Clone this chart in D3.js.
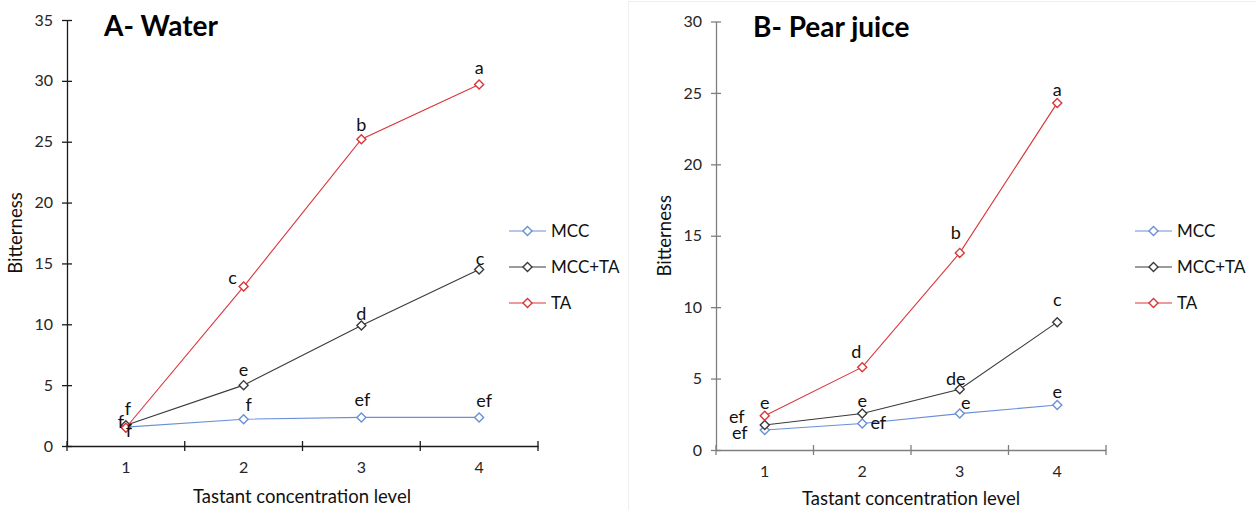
<!DOCTYPE html>
<html>
<head>
<meta charset="utf-8">
<script src="https://cdn.jsdelivr.net/npm/d3@7/dist/d3.min.js"></script>
<style>
  html, body { margin: 0; padding: 0; background: #fff; }
  svg { display: block; font-family: Lato, "Open Sans", sans-serif; }
</style>
</head>
<body>
<svg id="chart" width="1256" height="510"></svg>
<script>
// Tastant concentration levels on the x axis
const levels = ["1", "2", "3", "4"];
const seriesNames = ["MCC", "MCC+TA", "TA"];

// Panel A – water
const waterMCC = [1.55, 2.2, 2.35, 2.35];
const waterMCCTA = [1.7, 5.0, 9.9, 14.5];
const waterTA = [1.5, 13.1, 25.2, 29.7];
const waterMCCLetters = ["f", "f", "ef", "ef"];
const waterMCCTALetters = ["f", "e", "d", "c"];
const waterTALetters = ["f", "c", "b", "a"];
const waterTicks = [0, 5, 10, 15, 20, 25, 30, 35];

// Panel B – pear juice
const pearMCC = [1.4, 1.85, 2.55, 3.15];
const pearMCCTA = [1.75, 2.55, 4.25, 8.95];
const pearTA = [2.4, 5.8, 13.8, 24.3];
const pearMCCLetters = ["ef", "ef", "e", "e"];
const pearMCCTALetters = ["ef", "e", "de", "c"];
const pearTALetters = ["e", "d", "b", "a"];
const pearTicks = [0, 5, 10, 15, 20, 25, 30];

const colors = { "MCC": "#6a8fd8", "MCC+TA": "#3a3a3a", "TA": "#d9363a" };

// where each significance letter sits relative to its marker (px)
const waterOffsets = {
  "MCC":    [[3, 10], [5, -8], [1, -11], [5, -10]],
  "MCC+TA": [[-5, 3], [0, -9], [0, -6], [1, -5]],
  "TA":     [[2, -13], [-11, -3], [0, -8], [0, -11]]
};
const pearOffsets = {
  "MCC":    [[-25, 9], [16, 5], [6, -5], [0, -7]],
  "MCC+TA": [[-28, -2], [0, -7], [-4, -4], [0, -16]],
  "TA":     [[0, -7], [-6, -9], [-4, -14], [0, -7]]
};

const panels = [
  {
    title: "A- Water", titleX: 104, titleY: 36,
    left: 67, right: 538, top: 20, bottom: 446, yMax: 35, ticks: waterTicks,
    axisColor: "#1a1a1a", yTitleX: 22, xTitleY: 503, xTitleCx: 302,
    legendX: 509, legendTextX: 551,
    series: [
      { name: "MCC", values: waterMCC, letters: waterMCCLetters },
      { name: "MCC+TA", values: waterMCCTA, letters: waterMCCTALetters },
      { name: "TA", values: waterTA, letters: waterTALetters }
    ],
    offsets: waterOffsets
  },
  {
    title: "B- Pear juice", titleX: 753, titleY: 37,
    left: 716, right: 1106, top: 21.5, bottom: 450, yMax: 30, ticks: pearTicks,
    axisColor: "#7f7f7f", yTitleX: 671, xTitleY: 505, xTitleCx: 911,
    legendX: 1135, legendTextX: 1177,
    series: [
      { name: "MCC", values: pearMCC, letters: pearMCCLetters },
      { name: "MCC+TA", values: pearMCCTA, letters: pearMCCTALetters },
      { name: "TA", values: pearTA, letters: pearTALetters }
    ],
    offsets: pearOffsets
  }
];

const svg = d3.select("#chart");

// faint frame around the right panel
svg.append("rect")
  .attr("x", 628.5).attr("y", 1.5).attr("width", 640).attr("height", 520)
  .attr("fill", "none").attr("stroke", "#eeeeee").attr("stroke-width", 1);

const diamond = d3.symbol().type(d3.symbolDiamond2).size(52);

panels.forEach(p => {
  const g = svg.append("g");
  const x = d3.scaleBand().domain(levels).range([p.left, p.right]);
  const y = d3.scaleLinear().domain([0, p.yMax]).range([p.bottom, p.top]);

  // y axis with ticks crossing the line
  const yAxis = g.append("g").attr("transform", `translate(${p.left},0)`)
    .call(d3.axisLeft(y).tickValues(p.ticks).tickSizeInner(5).tickSizeOuter(0).tickPadding(9));
  yAxis.selectAll(".tick line").attr("x2", 5).attr("x1", -5);

  // x axis with category boundary ticks
  const xAxis = g.append("g").attr("transform", `translate(0,${p.bottom})`)
    .call(d3.axisBottom(x).tickSize(0).tickPadding(16));
  const bounds = levels.map(l => x(l)).concat([x(levels[levels.length - 1]) + x.bandwidth()]);
  xAxis.selectAll(".bound").data(bounds).enter().append("line")
    .attr("class", "bound")
    .attr("x1", d => d).attr("x2", d => d).attr("y1", -5).attr("y2", 5);

  [yAxis, xAxis].forEach(ax => {
    ax.select(".domain").attr("stroke", p.axisColor).attr("stroke-width", 1.3);
    ax.selectAll("line").attr("stroke", p.axisColor).attr("stroke-width", 1.3);
    ax.selectAll("text").attr("fill", "#262626").attr("font-size", 16)
      .attr("font-family", "Lato, 'Open Sans', sans-serif");
  });

  const cx = l => x(l) + x.bandwidth() / 2;

  // series lines and diamond markers
  p.series.forEach(s => {
    const pts = s.values.map((v, i) => [cx(levels[i]), y(v)]);
    g.append("path")
      .attr("d", d3.line()(pts))
      .attr("fill", "none").attr("stroke", colors[s.name]).attr("stroke-width", 1.1);
    g.selectAll(null).data(s.values).enter().append("path")
      .attr("d", diamond)
      .attr("transform", (v, i) => `translate(${cx(levels[i])},${y(v)})`)
      .attr("fill", "#fff").attr("stroke", colors[s.name]).attr("stroke-width", 1.4);
  });

  // significance letters
  p.series.forEach(s => {
    g.selectAll(null).data(s.letters).enter().append("text")
      .attr("x", (t, i) => cx(levels[i]) + p.offsets[s.name][i][0])
      .attr("y", (t, i) => y(s.values[i]) + p.offsets[s.name][i][1])
      .attr("text-anchor", "middle")
      .attr("font-size", 18).attr("fill", "#111")
      .text(t => t);
  });

  // legend
  seriesNames.forEach((n, i) => {
    const ly = 231 + i * 36;
    g.append("line").attr("x1", p.legendX).attr("x2", p.legendX + 37)
      .attr("y1", ly).attr("y2", ly).attr("stroke", colors[n]).attr("stroke-width", 1.1);
    g.append("path").attr("d", diamond)
      .attr("transform", `translate(${p.legendX + 18.5},${ly})`)
      .attr("fill", "#fff").attr("stroke", colors[n]).attr("stroke-width", 1.4);
    g.append("text").attr("x", p.legendTextX).attr("y", ly + 6)
      .attr("font-size", 17).attr("fill", "#111").text(n);
  });

  // titles
  g.append("text").attr("x", p.titleX).attr("y", p.titleY)
    .attr("font-size", 28).attr("font-weight", "bold").attr("fill", "#000")
    .text(p.title);
  g.append("text")
    .attr("transform", `translate(${p.yTitleX},${(p.top + p.bottom) / 2}) rotate(-90)`)
    .attr("text-anchor", "middle").attr("font-size", 18.5).attr("fill", "#111")
    .text("Bitterness");
  g.append("text").attr("x", p.xTitleCx).attr("y", p.xTitleY)
    .attr("text-anchor", "middle").attr("font-size", 18.5).attr("fill", "#111")
    .text("Tastant concentration level");
});
</script>
</body>
</html>
